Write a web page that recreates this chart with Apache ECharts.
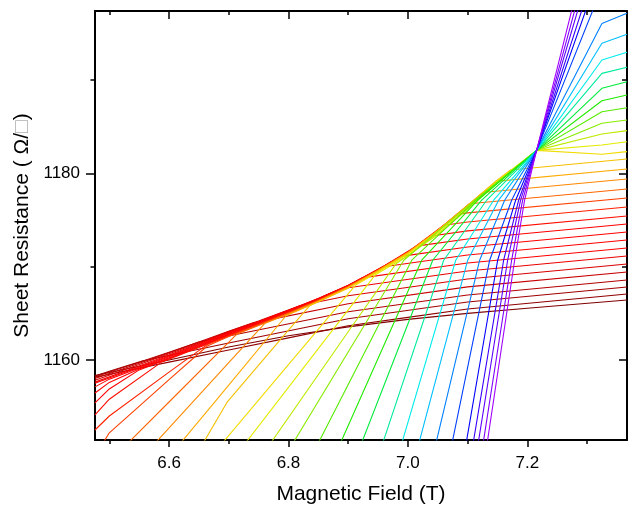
<!DOCTYPE html>
<html><head><meta charset="utf-8">
<script src="https://cdn.jsdelivr.net/npm/echarts@6/dist/echarts.min.js"></script>
<style>html,body{margin:0;padding:0;background:#fff}#c{width:633px;height:506px}</style>
</head><body><div id="c"></div>
<script>
// Axis ranges and tick labels
const fieldRange = [6.476, 7.367];
const resistanceRange = [1151.43, 1197.39];
const fieldTicks = [6.6, 6.8, 7.0, 7.2];
const resistanceTicks = [1160, 1180];

// Curves: [magnetic field (T), sheet resistance (ohm/sq)]
const c00 = [[6.476,1158.34],[6.6,1160.0],[6.7,1161.4],[6.8,1162.6],[6.9,1163.55],[7.0,1164.35],[7.1,1165.0],[7.2,1165.55],[7.367,1166.43]];
const c01 = [[6.476,1158.16],[6.6,1159.77],[6.7,1161.07],[6.8,1162.37],[6.9,1163.67],[7.0,1164.57],[7.1,1165.47],[7.367,1167.07]];
const c02 = [[6.476,1158.28],[6.5,1158.79],[6.555,1159.9],[6.7,1161.82],[6.9,1164.42],[7.1,1166.22],[7.367,1167.82]];
const c03 = [[6.476,1158.18],[6.5,1158.71],[6.55,1159.76],[6.6,1160.84],[6.65,1161.92],[6.9,1165.17],[7.1,1166.97],[7.367,1168.57]];
const c04 = [[6.476,1158.02],[6.55,1159.66],[6.6,1160.77],[6.65,1161.92],[6.7,1163.09],[6.74,1163.95],[6.9,1166.03],[7.1,1167.83],[7.367,1169.43]];
const c05 = [[6.476,1157.83],[6.55,1159.51],[6.6,1160.66],[6.65,1161.83],[6.7,1163.04],[6.75,1164.18],[6.82,1165.84],[6.9,1166.88],[7.1,1168.68],[7.367,1170.28]];
const c06 = [[6.476,1157.63],[6.55,1159.35],[6.6,1160.53],[6.65,1161.73],[6.7,1162.96],[6.75,1164.13],[6.8,1165.32],[6.85,1166.6],[6.884,1167.53],[6.9,1167.74],[7.1,1169.54],[7.367,1171.14]];
const c07 = [[6.476,1157.5],[6.55,1159.24],[6.6,1160.43],[6.65,1161.65],[6.7,1162.9],[6.75,1164.08],[6.8,1165.29],[6.85,1166.58],[6.9,1168.0],[6.923,1168.8],[7.1,1170.4],[7.367,1172.0]];
const c08 = [[6.476,1157.12],[6.5,1157.95],[6.55,1159.14],[6.6,1160.34],[6.65,1161.57],[6.7,1162.84],[6.75,1164.03],[6.8,1165.25],[6.85,1166.55],[6.9,1167.99],[6.957,1169.97],[7.1,1171.25],[7.367,1172.85]];
const c09 = [[6.476,1156.47],[6.5,1157.6],[6.55,1159.03],[6.6,1160.25],[6.65,1161.49],[6.7,1162.77],[6.75,1163.97],[6.8,1165.21],[6.85,1166.52],[6.9,1167.97],[6.95,1169.69],[6.988,1171.1],[7.1,1172.11],[7.367,1173.71]];
const c10 = [[6.476,1155.4],[6.5,1156.9],[6.55,1158.94],[6.6,1160.16],[6.65,1161.42],[6.7,1162.71],[6.75,1163.92],[6.8,1165.17],[6.85,1166.49],[6.9,1167.95],[6.95,1169.68],[7.014,1172.2],[7.1,1172.97],[7.367,1174.57]];
const c11 = [[6.476,1154.11],[6.5,1155.8],[6.588,1159.8],[6.65,1161.35],[6.7,1162.65],[6.75,1163.87],[6.8,1165.13],[6.85,1166.46],[6.9,1167.93],[6.95,1169.67],[7.0,1171.55],[7.036,1173.25],[7.1,1173.83],[7.367,1175.43]];
const c12 = [[6.476,1152.5],[6.5,1154.0],[6.6,1158.7],[6.665,1161.7],[6.7,1162.58],[6.75,1163.82],[6.8,1165.08],[6.85,1166.42],[6.9,1167.9],[6.95,1169.65],[7.0,1171.54],[7.06,1174.43],[7.1,1174.79],[7.367,1176.39]];
const c13 = [[6.485,1150.64],[6.5,1152.2],[6.6,1157.9],[6.664,1161.5],[6.7,1162.52],[6.75,1163.76],[6.8,1165.03],[6.85,1166.38],[6.9,1167.87],[6.95,1169.63],[7.0,1171.52],[7.05,1173.9],[7.082,1175.6],[7.1,1175.76],[7.367,1177.36]];
const c14 = [[6.52,1150.38],[6.6,1155.5],[6.714,1162.8],[6.75,1163.7],[6.8,1164.98],[6.85,1166.34],[6.9,1167.84],[6.95,1169.61],[7.0,1171.51],[7.05,1173.89],[7.103,1176.74],[7.367,1178.32]];
const c15 = [[6.57,1150.62],[6.7,1159.72],[6.76,1163.9],[6.8,1164.93],[6.85,1166.3],[6.9,1167.8],[6.95,1169.58],[7.0,1171.49],[7.05,1173.88],[7.1,1176.55],[7.125,1177.94],[7.367,1179.39]];
const c16 = [[6.61,1150.38],[6.7,1157.3],[6.796,1164.74],[6.85,1166.25],[6.9,1167.76],[6.95,1169.55],[7.0,1171.46],[7.05,1173.86],[7.1,1176.54],[7.147,1179.14],[7.367,1180.46]];
const c17 = [[6.65,1150.32],[6.698,1155.55],[6.8,1163.2],[6.836,1165.85],[6.9,1167.7],[6.95,1169.5],[7.0,1171.43],[7.05,1173.84],[7.1,1176.53],[7.15,1179.3],[7.172,1180.36],[7.367,1181.53]];
const c18 = [[6.68,1150.39],[6.8,1159.51],[6.912,1168.0],[6.95,1169.42],[7.0,1171.36],[7.05,1173.75],[7.1,1176.42],[7.15,1179.2],[7.2156,1182.46],[7.325,1182.05],[7.367,1182.32]];
const c19 = [[6.72,1150.43],[6.85,1161.22],[6.945,1169.1],[7.0,1171.2],[7.05,1173.6],[7.1,1176.3],[7.15,1179.1],[7.2156,1182.46],[7.325,1183.03],[7.367,1183.39]];
const c20 = [[6.76,1150.16],[6.9,1163.03],[6.98,1170.3],[7.05,1173.45],[7.1,1176.15],[7.15,1178.95],[7.2156,1182.46],[7.325,1184.21],[7.367,1184.57]];
const c21 = [[6.7499,1145.0],[6.9931,1170.69],[7.112,1177.12],[7.2156,1182.46],[7.325,1185.36],[7.367,1185.71]];
const c22 = [[6.8012,1145.0],[7.0065,1170.69],[7.114,1177.12],[7.2156,1182.46],[7.325,1186.6],[7.367,1187.03]];
const c23 = [[6.8447,1145.0],[7.0232,1170.69],[7.117,1177.12],[7.2156,1182.46],[7.325,1187.78],[7.367,1188.39]];
const c24 = [[6.8853,1145.0],[7.0416,1170.69],[7.1236,1177.12],[7.2156,1182.46],[7.325,1189.11],[7.367,1189.82]];
const c25 = [[6.9261,1145.0],[7.06,1170.69],[7.132,1177.12],[7.2156,1182.46],[7.325,1190.71],[7.367,1191.36]];
const c26 = [[6.9618,1145.0],[7.0801,1170.69],[7.1437,1177.12],[7.2156,1182.46],[7.325,1192.14],[7.367,1192.97]];
const c27 = [[6.9931,1145.0],[7.1002,1170.69],[7.152,1177.12],[7.2156,1182.46],[7.325,1193.93],[7.367,1194.89]];
const c28 = [[7.0243,1145.0],[7.1202,1170.69],[7.1621,1177.12],[7.2156,1182.46],[7.325,1196.06],[7.367,1197.14]];
const c29 = [[7.0544,1145.0],[7.137,1170.69],[7.1738,1177.12],[7.2156,1182.46],[7.3257,1200.0]];
const c30 = [[7.0812,1145.0],[7.1504,1170.69],[7.1805,1177.12],[7.2156,1182.46],[7.3119,1200.0]];
const c31 = [[7.0935,1145.0],[7.1604,1170.69],[7.1855,1177.12],[7.2156,1182.46],[7.3041,1200.0]];
const c32 = [[7.1024,1145.0],[7.1671,1170.69],[7.1888,1177.12],[7.2156,1182.46],[7.2962,1200.0]];
const c33 = [[7.1113,1145.0],[7.1738,1170.69],[7.1922,1177.12],[7.2156,1182.46],[7.2903,1200.0]];
const c34 = [[7.1185,1145.0],[7.1788,1170.69],[7.1955,1177.12],[7.2156,1182.46],[7.2844,1200.0]];

const curves = [c00,c01,c02,c03,c04,c05,c06,c07,c08,c09,c10,c11,c12,c13,c14,c15,c16,c17,
  c18,c19,c20,c21,c22,c23,c24,c25,c26,c27,c28,c29,c30,c31,c32,c33,c34];

// Style: rainbow palette, dark red -> violet
const lineColors = ['#7f0000','#8f0000','#a00000','#b30000','#c60000','#d90000','#ec0000',
  '#ff0000','#ff0000','#ff0000','#ff0000','#ff0d00','#ff2200','#ff4000','#ff6600','#ff8800',
  '#ffaa00','#f5c000','#f0dc00','#e3eb00','#bceb00','#89eb00','#56eb00','#1feb00','#00eb3b',
  '#00eb9d','#00ebeb','#00bfff','#0080ff','#0040ff','#0000ff','#3700ff','#5e00ff','#8000ff','#a200ff'];

const FONT = 'Liberation Sans, Arial, sans-serif';
const axisLineStyle = {color:'#000', width:2};
const tickLine = {color:'#000', width:1.5};

const chart = echarts.init(document.getElementById('c'), null, {renderer:'canvas'});
chart.setOption({
  animation:false,
  backgroundColor:'#fff',
  grid:{left:95, right:6, top:11, bottom:66, containLabel:false, outerBoundsMode:'none'},
  xAxis:[
    {type:'value', position:'bottom', min:fieldRange[0], max:fieldRange[1], minInterval:0.2, maxInterval:0.2,
     axisLine:{show:true, onZero:false, lineStyle:axisLineStyle},
     axisTick:{show:true, inside:false, length:7, lineStyle:tickLine, customValues:fieldTicks},
     minorTick:{show:true, splitNumber:2, length:4, lineStyle:tickLine},
     axisLabel:{customValues:fieldTicks, formatter:v=>Number(v).toFixed(1), fontSize:17, color:'#000', margin:15, fontFamily:FONT},
     splitLine:{show:false}, minorSplitLine:{show:false},
     name:'Magnetic Field (T)', nameLocation:'middle', nameGap:44,
     nameTextStyle:{fontSize:21, color:'#000', fontFamily:FONT}},
    {type:'value', position:'top', min:fieldRange[0], max:fieldRange[1], minInterval:0.2, maxInterval:0.2,
     axisLine:{show:true, onZero:false, lineStyle:axisLineStyle},
     axisTick:{show:true, inside:true, length:8, lineStyle:tickLine, customValues:fieldTicks},
     minorTick:{show:true, splitNumber:2, length:4, lineStyle:tickLine},
     axisLabel:{show:false}, splitLine:{show:false}}
  ],
  yAxis:[
    {type:'value', position:'left', min:resistanceRange[0], max:resistanceRange[1], minInterval:20, maxInterval:20,
     axisLine:{show:true, onZero:false, lineStyle:axisLineStyle},
     axisTick:{show:true, inside:false, length:9, lineStyle:tickLine, customValues:resistanceTicks},
     minorTick:{show:true, splitNumber:2, length:4.5, lineStyle:tickLine},
     axisLabel:{customValues:resistanceTicks, formatter:v=>String(Math.round(v)), fontSize:17, color:'#000', margin:15, fontFamily:FONT},
     splitLine:{show:false}, minorSplitLine:{show:false},
     name:'Sheet Resistance ( Ω/{sq|□})', nameLocation:'middle', nameGap:56, nameRotate:90,
     nameTextStyle:{fontSize:21, color:'#000', fontFamily:FONT, rich:{sq:{fontSize:21, color:'#b0b0b0', fontFamily:FONT}}}},
    {type:'value', position:'right', min:resistanceRange[0], max:resistanceRange[1], minInterval:20, maxInterval:20,
     axisLine:{show:true, onZero:false, lineStyle:axisLineStyle},
     axisTick:{show:true, inside:true, length:8, lineStyle:tickLine, customValues:resistanceTicks},
     minorTick:{show:true, splitNumber:2, length:5, lineStyle:tickLine},
     axisLabel:{show:false}, splitLine:{show:false}}
  ],
  series: curves.map((d, i) => ({
    type:'line', xAxisIndex:0, yAxisIndex:0, data:d, showSymbol:false, symbol:'none',
    clip:true, silent:true, animation:false,
    lineStyle:{width:1.1, color:lineColors[i]}, itemStyle:{color:lineColors[i]}
  }))
});
</script></body></html>
